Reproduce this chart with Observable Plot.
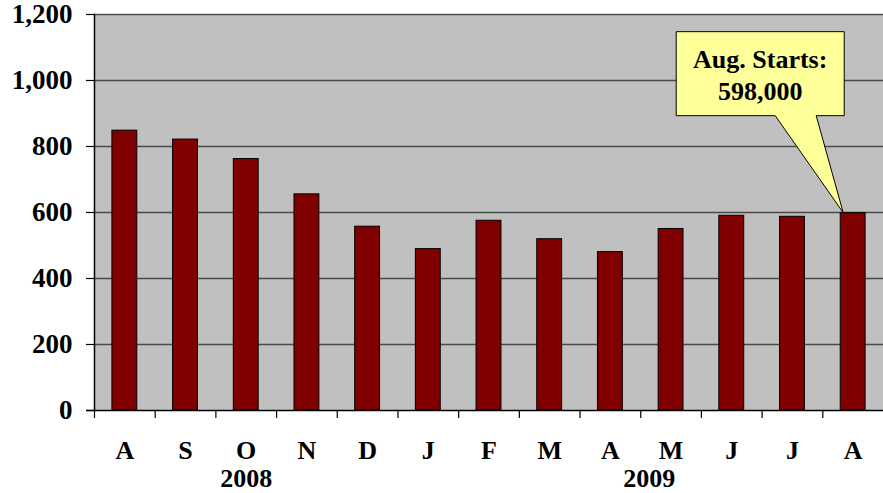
<!DOCTYPE html>
<html>
<head>
<meta charset="utf-8">
<script src="https://cdn.jsdelivr.net/npm/d3@7"></script>
<script src="https://cdn.jsdelivr.net/npm/@observablehq/plot@0.6"></script>
<style>
  html, body { margin: 0; padding: 0; background: #fff; overflow: hidden; }
  #chart svg { display: block; }
</style>
</head>
<body>
<div id="chart"></div>
<script>
// ---- data ----
const months = ["A", "S", "O", "N", "D", "J", "F", "M", "A", "M", "J", "J", "A"];
const starts = [848, 821, 762, 655, 557, 489, 575, 519, 480, 550, 590, 587, 598];
const yearLabels = ["2008", "2009"];
const yearIndex = [2, 8];
const yTicks = [0, 200, 400, 600, 800, 1000, 1200];
const calloutLines = ["Aug. Starts:", "598,000"];
const calloutIndex = 12;

const W = 883, H = 493;
const mL = 94, mR = 0, mT = 14, mB = 83;
const step = (W - mL - mR) / months.length;
const idx = d3.range(months.length);
const font = "'Liberation Serif','Times New Roman',Times,serif";

const callout = (index, scales) => {
  const g = d3.create("svg:g");
  const tx = scales.x(calloutIndex) + 3;
  const ty = scales.y(starts[calloutIndex]);
  const left = tx - 167, right = tx + 1, top = ty - 181, bottom = ty - 97;
  g.append("path")
    .attr("d", `M${left},${top}H${right}V${bottom}H${tx - 27}L${tx},${ty}L${tx - 68},${bottom}H${left}Z`)
    .attr("fill", "#FFFF99").attr("stroke", "#000").attr("stroke-width", 1);
  const cx = (left + right) / 2;
  calloutLines.forEach((t, i) => {
    g.append("text").attr("x", cx).attr("y", ty - 145 + i * 32)
      .attr("text-anchor", "middle").attr("font-size", 26).attr("font-weight", "bold")
      .attr("font-family", font).attr("fill", "#000").text(t);
  });
  return g.node();
};

const chart = Plot.plot({
  width: W, height: H,
  marginLeft: mL, marginRight: mR, marginTop: mT, marginBottom: mB,
  style: { fontFamily: font, fontWeight: "bold", fontSize: "26px", color: "#000", background: "#fff" },
  x: { type: "band", domain: idx, paddingInner: 0.59, paddingOuter: 0.295, round: false, axis: null },
  y: { domain: [0, 1200], axis: null },
  marks: [
    Plot.frame({ fill: "#C0C0C0", stroke: null }),
    Plot.gridY(yTicks.filter(d => d > 0), { stroke: "#4a4a4a", strokeWidth: 1.5, strokeOpacity: 1 }),
    Plot.barY(starts, { x: (d, i) => i, y: d => d, fill: "#800000", stroke: "#000", strokeWidth: 1 }),
    Plot.axisY(yTicks, { tickSize: 8, tickPadding: 14, tickFormat: d3.format(","), fontSize: 27, fontWeight: "bold", fontFamily: font, stroke: "#000", strokeWidth: 1.2 }),
    Plot.frame({ anchor: "left", stroke: "#000", strokeWidth: 1.5 }),
    Plot.ruleY([0], { stroke: "#000", strokeWidth: 1.5, insetLeft: -8 }),
    Plot.ruleX(idx, { x: d => d, y1: 0, y2: -24, dx: -step / 2, stroke: "#000", strokeWidth: 1.2 }),
    Plot.axisX(idx, { tickSize: 0, tickPadding: 30, tickFormat: i => months[i], fontSize: 26, fontWeight: "bold", fontFamily: font }),
    Plot.text(yearLabels, {
      x: (d, i) => yearIndex[i], frameAnchor: "bottom", dy: 68,
      text: d => d, fontSize: 26, fontWeight: "bold", fontFamily: font, lineAnchor: "middle"
    }),
    callout
  ]
});
document.getElementById("chart").append(chart);
// shift 2009 label between A and M as in reference
d3.select(chart).selectAll("text").filter(function () { return this.textContent === "2009"; })
  .attr("transform", function () { return (this.getAttribute("transform") || "") + ` translate(${step * 0.64},0)`; });
</script>
</body>
</html>
